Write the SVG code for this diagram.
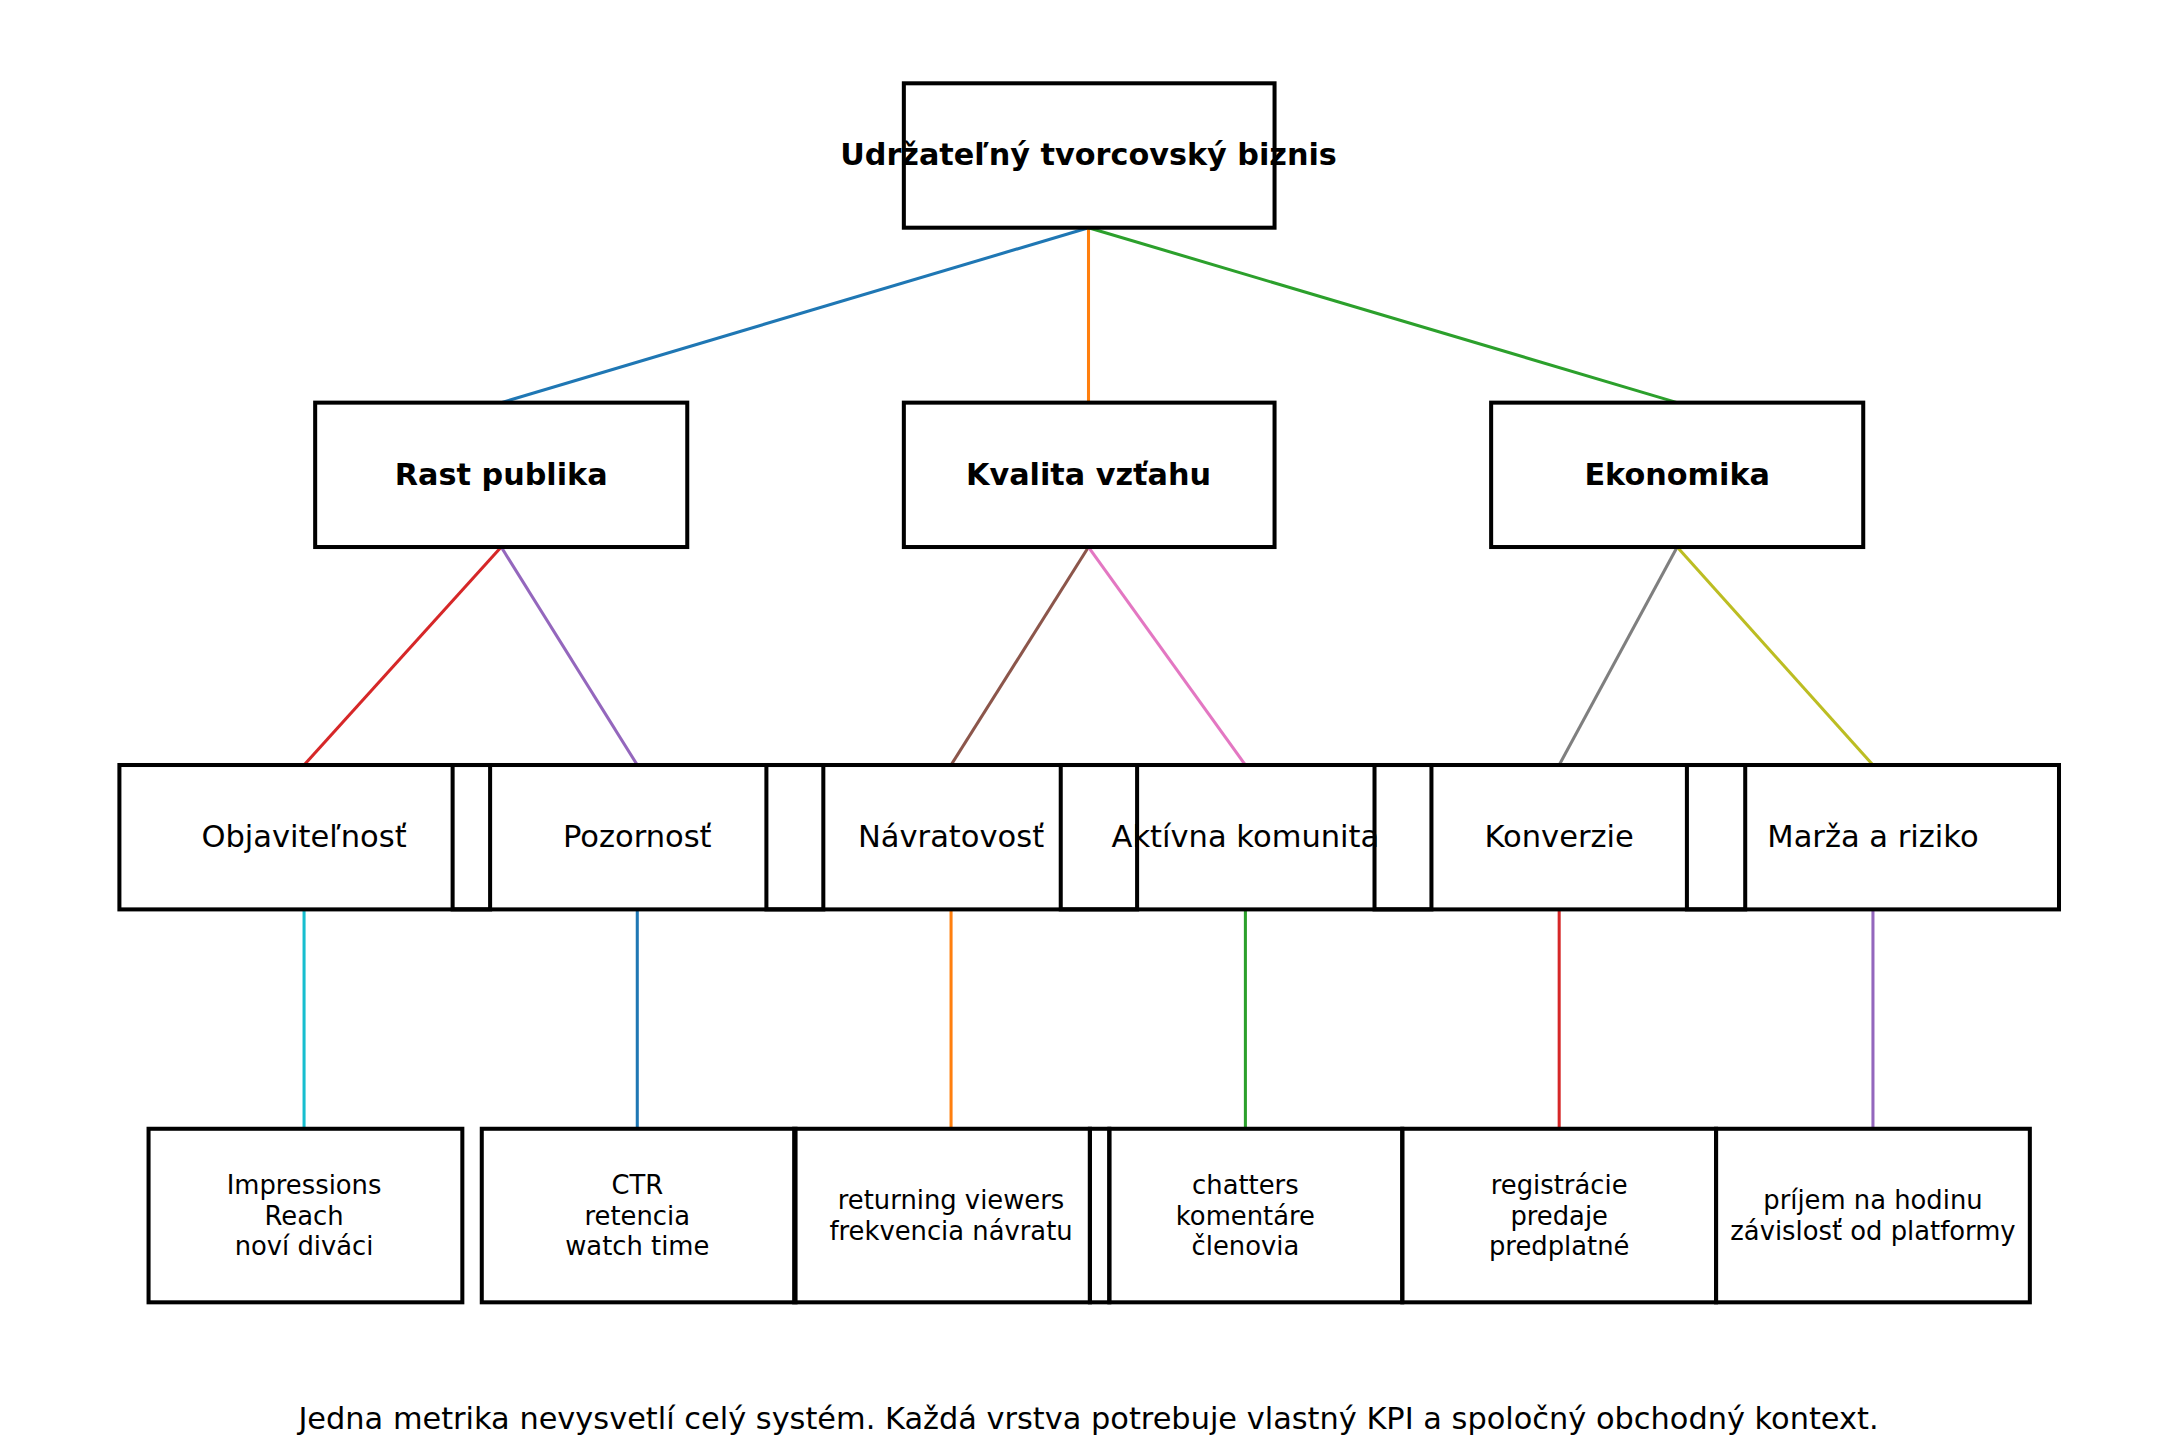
<svg xmlns="http://www.w3.org/2000/svg" width="2177" height="1456" viewBox="0 0 2177 1456">
<style>
.b{fill:none;stroke:#000;stroke-width:2.9}
text{font-family:"DejaVu Sans",sans-serif;text-anchor:middle;fill:#000}
.t1{font-size:21.8px;font-weight:bold}
.t3{font-size:22px}
.t4{font-size:18.6px}
.c{stroke-width:2.2;fill:none}
</style>
<rect width="2177" height="1456" fill="#fff"/>
<g transform="scale(1.3884)">
<g id="connectors">
<line class="c" x1="784" y1="164" x2="361" y2="290" stroke="#1f77b4"/>
<line class="c" x1="784" y1="164" x2="784" y2="290" stroke="#ff7f0e"/>
<line class="c" x1="784" y1="164" x2="1208" y2="290" stroke="#2ca02c"/>
<line class="c" x1="361" y1="394" x2="219" y2="551" stroke="#d62728"/>
<line class="c" x1="361" y1="394" x2="459" y2="551" stroke="#9467bd"/>
<line class="c" x1="784" y1="394" x2="685" y2="551" stroke="#8c564b"/>
<line class="c" x1="784" y1="394" x2="897" y2="551" stroke="#e377c2"/>
<line class="c" x1="1208" y1="394" x2="1123" y2="551" stroke="#7f7f7f"/>
<line class="c" x1="1208" y1="394" x2="1349" y2="551" stroke="#bcbd22"/>
<line class="c" x1="219" y1="655" x2="219" y2="813" stroke="#17becf"/>
<line class="c" x1="459" y1="655" x2="459" y2="813" stroke="#1f77b4"/>
<line class="c" x1="685" y1="655" x2="685" y2="813" stroke="#ff7f0e"/>
<line class="c" x1="897" y1="655" x2="897" y2="813" stroke="#2ca02c"/>
<line class="c" x1="1123" y1="655" x2="1123" y2="813" stroke="#d62728"/>
<line class="c" x1="1349" y1="655" x2="1349" y2="813" stroke="#9467bd"/>
</g>
<g id="root"><rect class="b" x="651" y="60" width="267" height="104"/><text class="t1" x="784" y="119">Udržateľný tvorcovský biznis</text></g>
<g id="rast"><rect class="b" x="227" y="290" width="268" height="104"/><text class="t1" x="361" y="349">Rast publika</text></g>
<g id="kvalita"><rect class="b" x="651" y="290" width="267" height="104"/><text class="t1" x="784" y="349">Kvalita vzťahu</text></g>
<g id="ekonomika"><rect class="b" x="1074" y="290" width="268" height="104"/><text class="t1" x="1208" y="349">Ekonomika</text></g>
<g id="objav"><rect class="b" x="86" y="551" width="267" height="104"/><text class="t3" x="219" y="610">Objaviteľnosť</text></g>
<g id="pozor"><rect class="b" x="326" y="551" width="267" height="104"/><text class="t3" x="459" y="610">Pozornosť</text></g>
<g id="navrat"><rect class="b" x="552" y="551" width="267" height="104"/><text class="t3" x="685" y="610">Návratovosť</text></g>
<g id="aktiv"><rect class="b" x="764" y="551" width="267" height="104"/><text class="t3" x="897" y="610">Aktívna komunita</text></g>
<g id="konv"><rect class="b" x="990" y="551" width="267" height="104"/><text class="t3" x="1123" y="610">Konverzie</text></g>
<g id="marza"><rect class="b" x="1215" y="551" width="268" height="104"/><text class="t3" x="1349" y="610">Marža a riziko</text></g>
<g id="m1"><rect class="b" x="107" y="813" width="226" height="125"/><text class="t4" x="219" y="860">Impressions</text><text class="t4" x="219" y="882">Reach</text><text class="t4" x="219" y="904">noví diváci</text></g>
<g id="m2"><rect class="b" x="347" y="813" width="226" height="125"/><text class="t4" x="459" y="860">CTR</text><text class="t4" x="459" y="882">retencia</text><text class="t4" x="459" y="904">watch time</text></g>
<g id="m3"><rect class="b" x="572" y="813" width="213" height="125"/><text class="t4" x="685" y="871">returning viewers</text><text class="t4" x="685" y="893">frekvencia návratu</text></g>
<g id="m4"><rect class="b" x="785" y="813" width="14" height="125"/><rect class="b" x="799" y="813" width="211" height="125"/><text class="t4" x="897" y="860">chatters</text><text class="t4" x="897" y="882">komentáre</text><text class="t4" x="897" y="904">členovia</text></g>
<g id="m5"><rect class="b" x="1010" y="813" width="226" height="125"/><text class="t4" x="1123" y="860">registrácie</text><text class="t4" x="1123" y="882">predaje</text><text class="t4" x="1123" y="904">predplatné</text></g>
<g id="m6"><rect class="b" x="1236" y="813" width="226" height="125"/><text class="t4" x="1349" y="871">príjem na hodinu</text><text class="t4" x="1349" y="893">závislosť od platformy</text></g>
<text x="784" y="1029" style="font-size:21.9px">Jedna metrika nevysvetlí celý systém. Každá vrstva potrebuje vlastný KPI a spoločný obchodný kontext.</text>
</g>
</svg>
